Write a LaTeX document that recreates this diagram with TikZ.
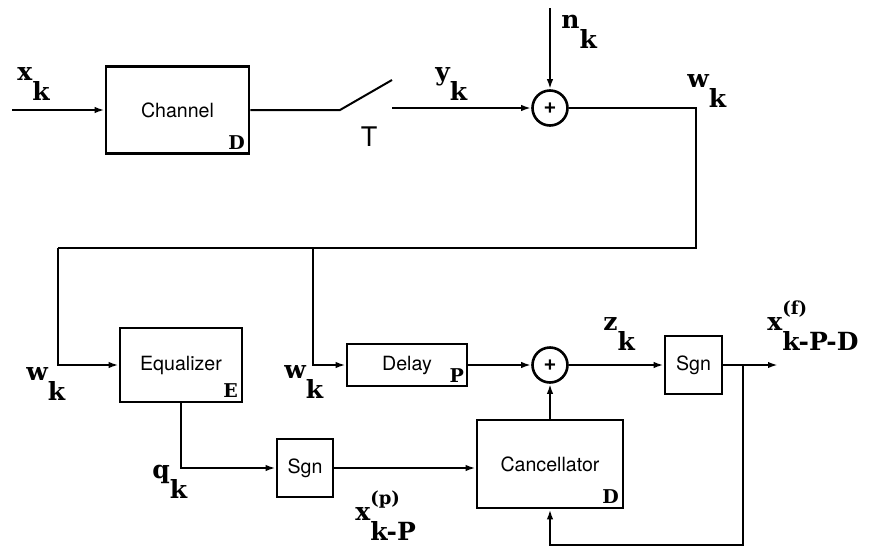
\documentclass[tikz,border=0pt]{standalone}
\usepackage{fontspec}
\setmainfont{TeX Gyre Heros}
\newfontfamily\lblfont{DejaVu Serif}
\usetikzlibrary{arrows.meta}

% signal label with a lowered index (and an optional raised mark)
\newcommand{\sig}[2]{{\lblfont\bfseries #1\raisebox{-10pt}{#2}}}
\newcommand{\sigud}[3]{{\lblfont\bfseries #1\rlap{\raisebox{8pt}{\fontsize{9}{9}\selectfont #2}}\raisebox{-10pt}{#3}}}

\begin{document}
\begin{tikzpicture}[
        x=0.5pt, y=-0.5pt,
        every node/.style={font=\fontsize{9.8}{12}\selectfont},
        blk/.style={draw, line width=1.3pt, inner sep=0pt, align=center},
        sum/.style={draw, circle, line width=1.3pt, minimum size=17.5pt, inner sep=0pt, font=\fontsize{11}{11}\selectfont\bfseries},
        tag/.style={anchor=south east, inner sep=2.5pt, font=\lblfont\bfseries\fontsize{9.5}{10}\selectfont},
        lbl/.style={anchor=base west, inner sep=0pt, font=\fontsize{12.5}{13}\selectfont},
        wire/.style={line width=1pt},
        arr/.style={wire, -{Latex[length=5pt, width=3.2pt]}}
    ]
        \useasboundingbox (0,0) rectangle (874,547);

        % blocks
        \node[blk, minimum width=71.5pt, minimum height=43.5pt] (chan) at (177.5,110) {Channel};
        \node[sum] (sum1) at (550,108) {+};
        \node[blk, minimum width=61pt, minimum height=37pt] (eq) at (181,365) {Equalizer};
        \node[blk, minimum width=60pt, minimum height=21pt] (delay) at (407,365) {Delay};
        \node[sum] (sum2) at (550,365) {+};
        \node[blk, minimum width=28.5pt, minimum height=29pt] (sgnb) at (693.5,365) {Sgn};
        \node[blk, minimum width=28pt, minimum height=29pt] (sgna) at (305,468) {Sgn};
        \node[blk, minimum width=73pt, minimum height=44pt] (canc) at (550,464) {Cancellator};

        % block parameters
        \node[tag] (tchan) at (chan.south east) {D};
        \node[tag] (teq) at (eq.south east) {E};
        \node[tag, inner sep=2pt] (tdelay) at (delay.south east) {P};
        \node[tag] (tcanc) at (canc.south east) {D};

        % points on the wires
        \coordinate (in) at (12,110);
        \coordinate (sw1) at (340,110);
        \coordinate (sw2) at (392,80);
        \coordinate (sw3) at (392,108);
        \coordinate (noise) at (550,8);
        \coordinate (tr) at (696,108);
        \coordinate (br) at (696,248);
        \coordinate (bl) at (58,248);
        \coordinate (tap) at (313,248);
        \coordinate (out) at (778,365);
        \coordinate (fb) at (743,365);
        \coordinate (fbb) at (743,545);

        % switch label
        \node[font=\fontsize{13.5}{14}\selectfont] (tsw) at (369,137) {T};

        % signal labels
        \node[lbl] (lxk) at (17,80) {\sig{x}{k}};
        \node[lbl] (lyk) at (435,80) {\sig{y}{k}};
        \node[lbl] (lnk) at (561,28) {\sig{n}{k}};
        \node[lbl] (lwt) at (687,87) {\sig{w}{k}};
        \node[lbl] (lwl) at (26,380) {\sig{w}{k}};
        \node[lbl] (lwm) at (284,378) {\sig{w}{k}};
        \node[lbl] (lqk) at (152,478) {\sig{q}{k}};
        \node[lbl] (lzk) at (603,330) {\sig{z}{k}};
        \node[lbl] (lxp) at (355,520) {\sigud{x}{(p)}{k-P}};
        \node[lbl] (lxf) at (767,330) {\sigud{x}{(f)}{k-P-D}};

        % connectors
        \draw[arr] (in) -- (chan.west);
        \draw[wire] (chan.east) -- (sw1) -- (sw2);
        \draw[arr] (sw3) -- (sum1.west);
        \draw[arr] (noise) -- (sum1.north);
        \draw[wire] (sum1.east) -- (tr) -- (br) -- (bl);
        \draw[arr] (bl) |- (eq.west);
        \draw[arr] (tap) |- (delay.west);
        \draw[arr] (delay.east) -- (sum2.west);
        \draw[arr] (sum2.east) -- (sgnb.west);
        \draw[arr] (sgnb.east) -- (out);
        \draw[arr] (fb) -- (fbb) -| (canc.south);
        \draw[arr] (canc.north) -- (sum2.south);
        \draw[arr] (eq.south) |- (sgna.west);
        \draw[arr] (sgna.east) -- (sgna.east -| canc.west);
    \end{tikzpicture}
\end{document}
